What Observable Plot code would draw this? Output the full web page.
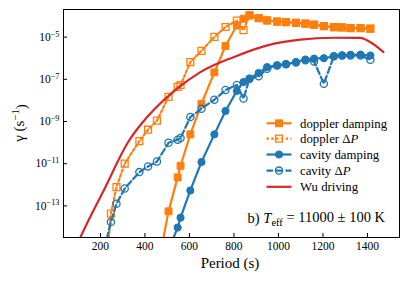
<!DOCTYPE html>
<html>
<head>
<meta charset="utf-8">
<script src="https://cdn.jsdelivr.net/npm/d3@7"></script>
<script src="https://cdn.jsdelivr.net/npm/@observablehq/plot@0.6"></script>
<style>
  html, body { margin: 0; padding: 0; background: white; }
  #chart { width: 407px; height: 282px; }
</style>
</head>
<body>
<div id="chart"></div>
<script>
// Mode periods (s), shared by the four mode series
const periods = [218, 247, 272, 309, 375, 414, 454, 506, 547, 560, 604, 654, 712, 762, 813, 843, 870, 911, 949, 994, 1034, 1079, 1121, 1160, 1204, 1249, 1286, 1324, 1369, 1413];

// log10 of gamma (s^-1)
const dopplerDamping = [null, null, null, null, null, null, -16.1, -13.26, -11.65, -11.10, -9.61, -8.16, -6.67, -5.42, -4.45, -4.13, -3.97, -4.10, -4.21, -4.26, -4.29, -4.32, -4.36, -4.41, -4.48, -4.53, -4.54, -4.57, -4.57, -4.60];
const dopplerDeltaP = [-17.0, -13.37, -12.11, -11.0, -9.93, -9.39, -8.96, -7.83, -7.36, -7.28, -6.18, -5.65, -4.99, -4.52, -4.22, -4.67, -3.97, -4.10, -4.21, -4.26, -4.29, -4.32, -4.36, -4.41, -4.48, -4.53, -4.54, -4.57, -4.57, -4.60];
const cavityDamping = [null, null, null, null, null, null, null, -15.1, -14.03, -13.56, -12.27, -10.92, -9.61, -8.50, -7.55, -7.13, -6.97, -6.70, -6.42, -6.34, -6.28, -6.18, -6.06, -6.02, -6.00, -5.91, -5.87, -5.84, -5.83, -5.87];
const cavityDeltaP = [-15.0, -13.77, -12.90, -12.18, -11.40, -11.13, -10.90, -10.01, -9.86, -9.78, -8.79, -8.39, -7.97, -7.51, -7.27, -7.91, -6.97, -6.86, -6.50, -6.34, -6.29, -6.20, -6.10, -6.15, -7.21, -5.91, -5.87, -5.87, -5.87, -6.07];

// Wu driving curve
const wuPeriods = [80, 110, 218, 326, 389, 438, 546, 649, 798, 950, 1099, 1247, 1369, 1400, 1472];
const wuLogGamma = [-15.2, -14.49, -12.2, -9.95, -9.05, -8.47, -7.43, -6.66, -5.95, -5.39, -5.12, -5.03, -5.04, -5.16, -5.71];

const xTicks = [200, 400, 600, 800, 1000, 1200, 1400];
const yTickExponents = [-5, -7, -9, -11, -13];
const legendLabels = ["doppler damping", "doppler ΔP", "cavity damping", "cavity ΔP", "Wu driving"];
const annotationText = ["b) ", "T", "eff", " = 11000 ± 100 K"];
const xLabel = "Period (s)";
const yLabel = ["γ (s", "−1", ")"];

const ORANGE = "#ff7f0e", BLUE = "#1f77b4", RED = "#d62728";
const FONT = "Liberation Serif, DejaVu Serif, serif";

function series(vals) {
  return periods.map((p, i) => ({p, g: vals[i] == null ? null : Math.pow(10, vals[i])})).filter(d => d.g != null);
}
const dd = series(dopplerDamping), dp = series(dopplerDeltaP), cd = series(cavityDamping), cp = series(cavityDeltaP);
const wu = wuPeriods.map((p, i) => ({p, g: Math.pow(10, wuLogGamma[i])}));

const LW = 2.2;
const DOT = "2.4,2.4", DASH = "6.5,3";
const svg = Plot.plot({
  width: 407, height: 282,
  marginLeft: 63, marginRight: 8, marginTop: 9, marginBottom: 45,
  style: {fontFamily: FONT, fontSize: "11.5px", background: "white", color: "black"},
  x: {domain: [34, 1544]},
  y: {type: "log", domain: [Math.pow(10, -14.5), Math.pow(10, -3.69)]},
  marks: [
    Plot.line(dd, {x: "p", y: "g", stroke: ORANGE, strokeWidth: LW, clip: true}),
    Plot.dot(dd, {x: "p", y: "g", symbol: "square", r: 3.9, fill: ORANGE, stroke: ORANGE, strokeWidth: 1, clip: true}),
    Plot.line(dp, {x: "p", y: "g", stroke: ORANGE, strokeWidth: LW, strokeDasharray: DOT, clip: true}),
    Plot.dot(dp, {x: "p", y: "g", symbol: "square", r: 3.9, fill: "none", stroke: ORANGE, strokeWidth: 1.3, clip: true}),
    Plot.line(cd, {x: "p", y: "g", stroke: BLUE, strokeWidth: LW, clip: true}),
    Plot.dot(cd, {x: "p", y: "g", r: 3.6, fill: BLUE, stroke: BLUE, strokeWidth: 1, clip: true}),
    Plot.line(cp, {x: "p", y: "g", stroke: BLUE, strokeWidth: LW, strokeDasharray: DASH, clip: true}),
    Plot.dot(cp, {x: "p", y: "g", r: 3.6, fill: "none", stroke: BLUE, strokeWidth: 1.3, clip: true}),
    Plot.line(wu, {x: "p", y: "g", stroke: RED, strokeWidth: LW, curve: "monotone-x", clip: true}),
    Plot.frame({stroke: "black", strokeWidth: 1}),
    Plot.axisX({ticks: xTicks, tickSize: -4, tickFormat: () => "", label: null}),
    Plot.axisX({ticks: xTicks, tickSize: 0, tickPadding: 4, tickFormat: d => String(d), label: null}),
    Plot.axisY({ticks: yTickExponents.map(e => Math.pow(10, e)), tickSize: -4, tickFormat: () => "", label: null}),
    Plot.axisY({ticks: yTickExponents.map(e => Math.pow(10, e)), tickSize: 0, tickPadding: 4,
      tickFormat: d => "10^" + Math.round(Math.log10(d)), label: null})
  ]
});
document.getElementById("chart").appendChild(svg);

const S = d3.select(svg);
// superscript tick labels
S.selectAll("text").each(function() {
  const t = this.textContent;
  const m = /^10\^(-?\d+)$/.exec(t);
  if (m) {
    const el = d3.select(this);
    el.text("10");
    el.append("tspan").attr("dy", "-0.5em").attr("font-size", "0.72em").text(m[1].replace("-", "−"));
  }
});

// axis titles
S.append("text").attr("x", 230).attr("y", 268).attr("text-anchor", "middle")
  .attr("font-family", FONT).attr("font-size", 15).text(xLabel);
const yl = S.append("text").attr("transform", "translate(24,123) rotate(-90)").attr("text-anchor", "middle")
  .attr("font-family", FONT).attr("font-size", 15);
yl.append("tspan").text(yLabel[0]);
yl.append("tspan").attr("dy", "-0.45em").attr("font-size", "0.72em").text(yLabel[1]);
yl.append("tspan").attr("dy", "0.45em").text(yLabel[2]);

// legend
const legendStyles = [
  {color: ORANGE, dash: null, sym: "square", fill: true},
  {color: ORANGE, dash: DOT, sym: "square", fill: false},
  {color: BLUE, dash: null, sym: "circle", fill: true},
  {color: BLUE, dash: DASH, sym: "circle", fill: false},
  {color: RED, dash: null, sym: null, fill: false}
];
const rowsY = [123.3, 138.6, 154.5, 170.6, 186.8];
const lg = S.append("g").attr("font-family", FONT).attr("font-size", 12.8).attr("text-anchor", "start");
legendLabels.forEach((lab, i) => {
  const st = legendStyles[i], y = rowsY[i];
  lg.append("line").attr("x1", 266.5).attr("x2", 291.5).attr("y1", y).attr("y2", y)
    .attr("stroke", st.color).attr("stroke-width", LW).attr("stroke-dasharray", st.dash);
  if (st.sym === "square") {
    lg.append("rect").attr("x", 279 - 3.45).attr("y", y - 3.45).attr("width", 6.9).attr("height", 6.9)
      .attr("fill", st.fill ? st.color : "none").attr("stroke", st.color).attr("stroke-width", st.fill ? 1 : 1.3);
  } else if (st.sym === "circle") {
    lg.append("circle").attr("cx", 279).attr("cy", y).attr("r", 3.6)
      .attr("fill", st.fill ? st.color : "none").attr("stroke", st.color).attr("stroke-width", st.fill ? 1 : 1.3);
  }
  const tx = lg.append("text").attr("x", 300).attr("y", y).attr("dy", "0.35em").attr("text-anchor", "start");
  if (lab.endsWith("ΔP")) {
    tx.append("tspan").text(lab.slice(0, -1));
    tx.append("tspan").attr("font-style", "italic").text("P");
  } else {
    tx.text(lab);
  }
});

// annotation
const an = S.append("text").attr("x", 385).attr("y", 223).attr("text-anchor", "end")
  .attr("font-family", FONT).attr("font-size", 14.5);
an.append("tspan").text(annotationText[0]);
an.append("tspan").attr("font-style", "italic").text(annotationText[1]);
an.append("tspan").attr("dy", "0.3em").attr("font-size", "0.72em").text(annotationText[2]);
an.append("tspan").attr("dy", "-0.3em").text(annotationText[3]);
</script>
</body>
</html>
